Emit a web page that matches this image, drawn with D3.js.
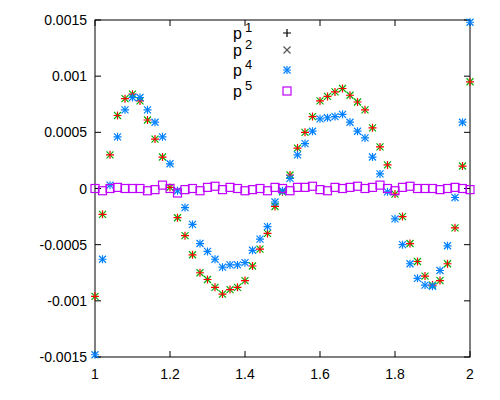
<!DOCTYPE html>
<html><head><meta charset="utf-8">
<script src="https://cdn.jsdelivr.net/npm/d3@7"></script>
<style>body{margin:0;background:#fff}text{font-family:"Liberation Sans",Arial,sans-serif;font-size:14px}</style>
</head><body><svg id="chart" width="500" height="400"></svg>
<script>
// x positions 1.00 .. 2.00 step 0.02
const xs = d3.range(51).map(i => 1 + i * 0.02);
const p1 = [-0.00096,-0.00023,0.0003,0.00065,0.0008,0.00084,0.00078,0.00061,0.00044,0.00028,0.00001,
  -0.00026,-0.00042,-0.00059,-0.00075,-0.00081,-0.00088,-0.00094,-0.0009,-0.00088,-0.00082,
  -0.00069,-0.00054,-0.0004,-0.00016,-0.00003,0.00012,0.00036,0.0005,0.00064,0.00078,
  0.00082,0.00086,0.00089,0.00083,0.00077,0.0007,0.00054,0.00037,0.00021,-0.00005,
  -0.00025,-0.00049,-0.00065,-0.00078,-0.00086,-0.00082,-0.00067,-0.00035,0.0002,0.00095];
const p2 = [-0.00096,-0.00023,0.0003,0.00065,0.0008,0.00084,0.00078,0.00061,0.00044,0.00028,0.00001,
  -0.00026,-0.00042,-0.00059,-0.00075,-0.00081,-0.00088,-0.00094,-0.0009,-0.00088,-0.00082,
  -0.00069,-0.00054,-0.0004,-0.00016,-0.00003,0.00012,0.00036,0.0005,0.00064,0.00078,
  0.00082,0.00086,0.00089,0.00083,0.00077,0.0007,0.00054,0.00037,0.00021,-0.00005,
  -0.00025,-0.00049,-0.00065,-0.00078,-0.00086,-0.00082,-0.00067,-0.00035,0.0002,0.00095];
const p4 = [-0.00148,-0.00063,0.00003,0.00046,0.0007,0.00081,0.00081,0.0007,0.00059,0.00046,0.00022,
  -0.00002,-0.00017,-0.00032,-0.00049,-0.00056,-0.00063,-0.0007,-0.00068,-0.00068,-0.00066,
  -0.00055,-0.00045,-0.00034,-0.00012,-0.00002,0.00009,0.0003,0.0004,0.00051,0.00062,
  0.00063,0.00064,0.00066,0.00059,0.00051,0.00045,0.00028,0.00013,-0.00003,-0.00027,
  -0.0005,-0.00067,-0.0008,-0.00086,-0.00087,-0.00073,-0.00051,-0.00008,0.00059,0.00148];
const p5 = [0,-0.00002,0,0.00001,0,0,0,-0.00002,-0.00001,0.00003,0,-0.00004,-0.00001,0,-0.00002,0.00001,
  0.00002,-0.00001,0.00001,0,-0.00002,-0.00001,0,-0.00002,0.00001,0,-0.00002,0.00001,0.00001,
  0.00002,-0.00001,-0.00002,0.00001,0,0.00001,0.00002,0,0.00001,0.00003,0,-0.00002,0.00001,
  0.00002,0,0,0,-0.00001,0,0.00001,0,-0.00001];
const xTicks = [1, 1.2, 1.4, 1.6, 1.8, 2];
const yTicks = [-0.0015, -0.001, -0.0005, 0, 0.0005, 0.001, 0.0015];
const names = ['1', '2', '4', '5'];

const svg = d3.select('#chart');
const L = 95, R = 470, T = 20, B = 357;
const x = d3.scaleLinear().domain([1, 2]).range([L, R]);
const y = d3.scaleLinear().domain([-0.0015, 0.0015]).range([B, T]);

// ticks on all four sides
const g = svg.append('g').attr('stroke', '#000').attr('stroke-width', 1);
xTicks.forEach(t => {
  g.append('line').attr('x1', x(t)).attr('x2', x(t)).attr('y1', B).attr('y2', B - 6);
  g.append('line').attr('x1', x(t)).attr('x2', x(t)).attr('y1', T).attr('y2', T + 6);
});
yTicks.forEach(t => {
  g.append('line').attr('x1', L).attr('x2', L + 6).attr('y1', y(t)).attr('y2', y(t));
  g.append('line').attr('x1', R).attr('x2', R - 6).attr('y1', y(t)).attr('y2', y(t));
});
g.append('rect').attr('x', L).attr('y', T).attr('width', R - L).attr('height', B - T).attr('fill', 'none');

svg.selectAll('.xl').data(xTicks).join('text').attr('x', d => x(d)).attr('y', B + 22)
  .attr('text-anchor', 'middle').text(d => d3.format('')(d));
svg.selectAll('.yl').data(yTicks).join('text').attr('x', L - 8).attr('y', d => y(d) + 5)
  .attr('text-anchor', 'end').text(d => d === 0 ? '0' : String(d));

// marker drawers
const plus = (s, cx, cy, c) => s.append('path').attr('d', `M${cx-4},${cy}H${cx+4}M${cx},${cy-4}V${cy+4}`).attr('stroke', c).attr('stroke-width', 1.2);
const cross = (s, cx, cy, c) => s.append('path').attr('d', `M${cx-3.5},${cy-3.5}L${cx+3.5},${cy+3.5}M${cx-3.5},${cy+3.5}L${cx+3.5},${cy-3.5}`).attr('stroke', c).attr('stroke-width', 1.2);
const star = (s, cx, cy, c) => { plus(s, cx, cy, c); cross(s, cx, cy, c); };
const square = (s, cx, cy, c) => s.append('rect').attr('x', cx - 4).attr('y', cy - 4).attr('width', 8).attr('height', 8).attr('fill', 'none').attr('stroke', c).attr('stroke-width', 1.2);

const series = [
  { vals: p1, mk: plus, c: '#ff0000' },
  { vals: p2, mk: cross, c: '#00b000' },
  { vals: p4, mk: star, c: '#0080ff' },
  { vals: p5, mk: square, c: '#c000ff' }
];
const plot = svg.append('g');
[series[1], series[0], series[2], series[3]].forEach(s => {
  s.vals.forEach((v, i) => s.mk(plot, x(xs[i]), y(v), s.c));
});

// legend
const legY = [33, 50, 70, 91];
const legMk = [plus, cross, star, square];
names.forEach((n, i) => {
  const t = svg.append('text').attr('x', 233).attr('y', legY[i] + 6).style('font-size', '16px');
  t.append('tspan').text('p');
  t.append('tspan').attr('dx', 3).attr('dy', -7).style('font-size', '13px').text(n);
  legMk[i](svg, 287, legY[i], i === 0 ? '#000' : i === 1 ? '#555' : series[i].c);
});
</script></body></html>
